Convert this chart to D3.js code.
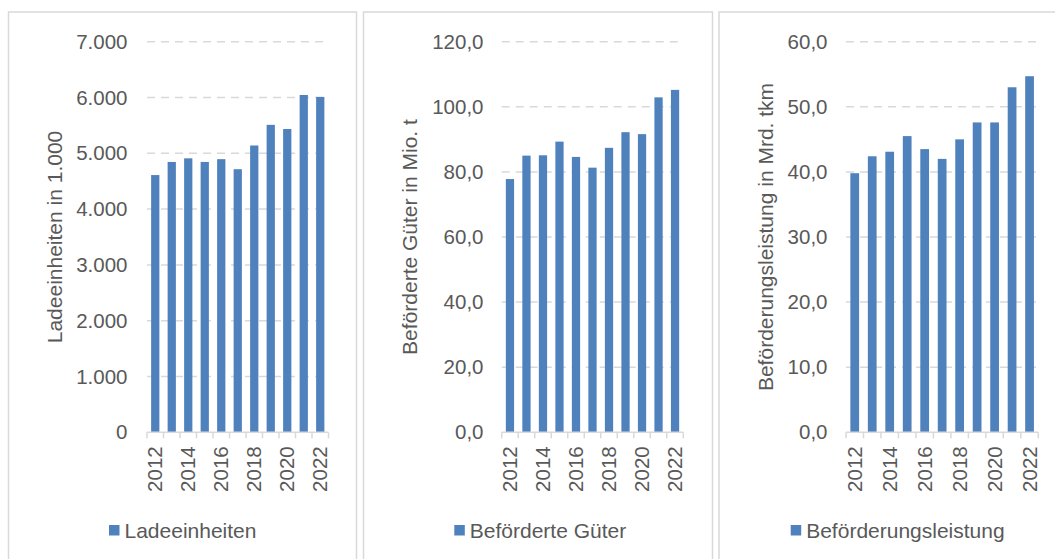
<!DOCTYPE html>
<html>
<head>
<meta charset="utf-8">
<script src="https://cdn.jsdelivr.net/npm/d3@7"></script>
<style>
  html, body { margin: 0; padding: 0; background: #fff; }
  svg { display: block; font-family: "Liberation Sans", Arial, sans-serif; }
</style>
</head>
<body>
<svg id="chart" width="1055" height="559"></svg>
<script>
// ---- data ----
const years = ["2012","2013","2014","2015","2016","2017","2018","2019","2020","2021","2022"];
const yearLabels = ["2012","2014","2016","2018","2020","2022"];

const ladeeinheiten = [4610, 4845, 4910, 4845, 4895, 4715, 5140, 5510, 5435, 6045, 6010];
const gueter = [77.8, 85.0, 85.1, 89.3, 84.6, 81.3, 87.4, 92.2, 91.6, 102.9, 105.2];
const leistung = [39.8, 42.4, 43.1, 45.5, 43.5, 42.0, 45.0, 47.6, 47.6, 53.0, 54.7];

const ticks1 = [0, 1000, 2000, 3000, 4000, 5000, 6000, 7000];
const ticks2 = [0, 20, 40, 60, 80, 100, 120];
const ticks3 = [0, 10, 20, 30, 40, 50, 60];

const titles = ["Ladeeinheiten in 1.000", "Beförderte Güter in Mio. t", "Beförderungsleistung in Mrd. tkm"];
const legendNames = ["Ladeeinheiten", "Beförderte Güter", "Beförderungsleistung"];

// ---- formatting ----
const deFmt0 = v => d3.format(",.0f")(v).replace(/,/g, ".");
const deFmt1 = v => d3.format(".1f")(v).replace(".", ",");

// ---- layout (positions only) ----
const panels = [
  { values: ladeeinheiten, ticks: ticks1, fmt: deFmt0, max: 7000, title: titles[0], legend: legendNames[0],
    box: [8.5, 12, 356.5], x0: 147, x1: 328.5, labelX: 127.5, titleX: 55, legX: 109 },
  { values: gueter, ticks: ticks2, fmt: deFmt1, max: 120, title: titles[1], legend: legendNames[1],
    box: [363.5, 12, 712.5], x0: 501.7, x1: 683.3, labelX: 483.5, titleX: 410, legX: 454.3 },
  { values: leistung, ticks: ticks3, fmt: deFmt1, max: 60, title: titles[2], legend: legendNames[2],
    box: [719, 12, 1062], x0: 846, x1: 1038.3, labelX: 827.5, titleX: 766, legX: 790.7 }
];

const yTop = 41.7, yBot = 432.3;
const barColor = "#4f81bd";
const gridColor = "#d9d9d9";
const textColor = "#595959";

const svg = d3.select("#chart");

panels.forEach(p => {
  const g = svg.append("g");

  // panel border
  g.append("rect")
    .attr("x", p.box[0]).attr("y", p.box[1])
    .attr("width", p.box[2] - p.box[0]).attr("height", 600)
    .attr("fill", "none").attr("stroke", gridColor).attr("stroke-width", 1.5);

  const x = d3.scaleBand().domain(years).range([p.x0, p.x1]).paddingInner(0.5).paddingOuter(0.25);
  const xb = d3.scaleBand().domain(years).range([p.x0, p.x1]);
  const y = d3.scaleLinear().domain([0, p.max]).range([yBot, yTop]);

  // gridlines
  g.append("g").selectAll("line")
    .data(p.ticks.filter(t => t > 0))
    .join("line")
    .attr("x1", p.x0).attr("x2", p.x1)
    .attr("y1", d => y(d)).attr("y2", d => y(d))
    .attr("stroke", gridColor).attr("stroke-width", 1.5)
    .attr("stroke-dasharray", "8,6");

  // y tick labels
  const yAxis = d3.axisLeft(y).tickValues(p.ticks).tickFormat(p.fmt).tickSize(0).tickPadding(0);
  const ya = g.append("g").attr("transform", `translate(${p.labelX},0)`).call(yAxis);
  ya.select(".domain").remove();
  ya.selectAll("text").attr("fill", textColor).attr("font-size", "20.5px")
    .attr("font-family", "Liberation Sans, Arial, sans-serif");

  // bars
  g.append("g").selectAll("rect")
    .data(p.values)
    .join("rect")
    .attr("x", (d, i) => xb(years[i]) + xb.bandwidth() / 4)
    .attr("width", xb.bandwidth() / 2)
    .attr("y", d => y(d))
    .attr("height", d => yBot - y(d))
    .attr("fill", barColor);

  // x axis baseline and ticks
  const xAxis = d3.axisBottom(xb).tickSize(0).tickFormat("");
  const xa = g.append("g").attr("transform", `translate(0,${yBot})`).call(xAxis);
  xa.select(".domain").attr("stroke", gridColor).attr("stroke-width", 1.5).attr("d", `M${p.x0},0H${p.x1}`);
  xa.selectAll(".tick").remove();
  const bounds = years.map(d => xb(d)).concat([p.x1]);
  xa.selectAll("line.tk").data(bounds).join("line").attr("class", "tk")
    .attr("x1", d => d).attr("x2", d => d).attr("y1", 0).attr("y2", 6)
    .attr("stroke", gridColor).attr("stroke-width", 1.5);

  // x labels (rotated)
  g.append("g").selectAll("text")
    .data(yearLabels)
    .join("text")
    .attr("transform", d => `translate(${xb(d) + xb.bandwidth() / 2},${yBot + 14}) rotate(-90)`)
    .attr("dy", "0.35em")
    .attr("text-anchor", "end")
    .attr("fill", textColor).attr("font-size", "20.5px")
    .text(d => d);

  // axis title
  g.append("text")
    .attr("transform", `translate(${p.titleX},${(yTop + yBot) / 2}) rotate(-90)`)
    .attr("dy", "0.35em")
    .attr("text-anchor", "middle")
    .attr("fill", textColor).attr("font-size", "21px")
    .text(p.title);

  // legend
  g.append("rect").attr("x", p.legX).attr("y", 525).attr("width", 10.5).attr("height", 10.5).attr("fill", barColor);
  g.append("text").attr("x", p.legX + 15.5).attr("y", 530.5).attr("dy", "0.35em")
    .attr("fill", textColor).attr("font-size", "21px").text(p.legend);
});
</script>
</body>
</html>
